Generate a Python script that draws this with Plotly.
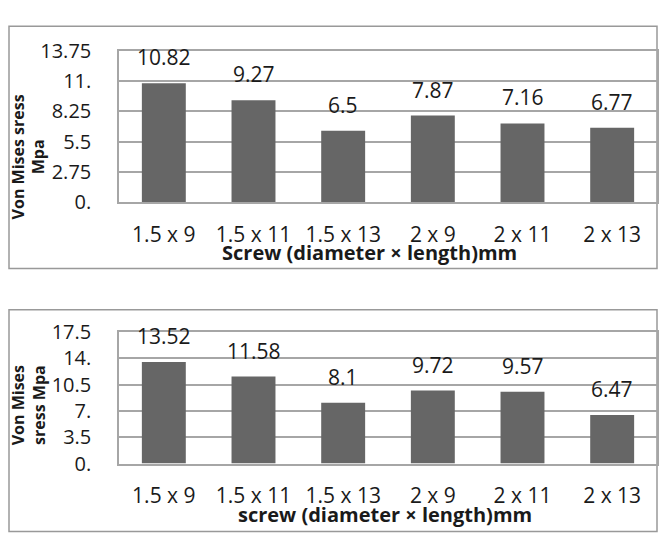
import plotly.graph_objects as go

W, H = 665, 537

categories = ["1.5 x 9", "1.5 x 11", "1.5 x 13", "2 x 9", "2 x 11", "2 x 13"]
top_values = [10.82, 9.27, 6.5, 7.87, 7.16, 6.77]
bottom_values = [13.52, 11.58, 8.1, 9.72, 9.57, 6.47]

top_tickvals = [0, 2.75, 5.5, 8.25, 11, 13.75]
top_ticktext = ["0.", "2.75", "5.5", "8.25", "11.", "13.75"]
bottom_tickvals = [0, 3.5, 7, 10.5, 14, 17.5]
bottom_ticktext = ["0.", "3.5", "7.", "10.5", "14.", "17.5"]

top_xtitle = "Screw (diameter × length)mm"
bottom_xtitle = "screw (diameter × length)mm"
top_ytitle = "Von Mises sress<br>Mpa"
bottom_ytitle = "Von Mises<br>sress Mpa"

FONT = "Open Sans"
BAR = "#666666"
GRID = "#a6a6a6"
TEXT = "#1a1a1a"
TS = 21


def px_x(v):
    return v / W


def px_y(v):
    return 1 - v / H


fig = go.Figure()
fig.add_trace(go.Bar(x=categories, y=top_values, marker=dict(color=BAR, line=dict(width=0)),
                     xaxis="x", yaxis="y", hoverinfo="skip"))
fig.add_trace(go.Bar(x=categories, y=bottom_values, marker=dict(color=BAR, line=dict(width=0)),
                     xaxis="x2", yaxis="y2", hoverinfo="skip"))

xdom = [px_x(119), px_x(657)]
common_x = dict(domain=xdom, showgrid=False, showline=True, linecolor=GRID, linewidth=1.5,
                mirror=True, ticks="", ticklabelstandoff=13,
                tickfont=dict(family=FONT, size=TS, color=TEXT), fixedrange=True)
common_y = dict(showgrid=True, gridcolor=GRID, gridwidth=1.5, showline=True, linecolor=GRID,
                linewidth=1.5, mirror=True, ticks="", zeroline=False, ticklabelstandoff=22,
                tickfont=dict(family=FONT, size=TS - 1, color=TEXT), fixedrange=True)

fig.update_layout(
    width=W, height=H, margin=dict(l=0, r=0, t=0, b=0),
    paper_bgcolor="white", plot_bgcolor="white", showlegend=False, bargap=0.51,
    xaxis=dict(anchor="y", **common_x),
    yaxis=dict(anchor="x", domain=[px_y(198), px_y(39)], range=[0, 13.75],
               tickvals=top_tickvals, ticktext=top_ticktext, **common_y),
    xaxis2=dict(anchor="y2", **common_x),
    yaxis2=dict(anchor="x2", domain=[px_y(473.3), px_y(335)], range=[0, 17.5],
                tickvals=bottom_tickvals, ticktext=bottom_ticktext, **common_y),
)

annotations = []
for c, v in zip(categories, top_values):
    annotations.append(dict(x=c, y=v, xref="x", yref="y", text=f"{v:g}", showarrow=False,
                            yanchor="middle", yshift=26,
                            font=dict(family=FONT, size=TS, color=TEXT)))
for c, v in zip(categories, bottom_values):
    annotations.append(dict(x=c, y=v, xref="x2", yref="y2", text=f"{v:g}", showarrow=False,
                            yanchor="middle", yshift=26,
                            font=dict(family=FONT, size=TS, color=TEXT)))

annotations.append(dict(x=px_x(369.5), y=px_y(251), xref="paper", yref="paper",
                        text=f"<b>{top_xtitle}</b>", showarrow=False,
                        xanchor="center", yanchor="middle",
                        font=dict(family=FONT, size=20, color=TEXT)))
annotations.append(dict(x=px_x(385), y=px_y(527), xref="paper", yref="paper",
                        text=f"<b>{bottom_xtitle}</b>", showarrow=False,
                        xanchor="center", yanchor="middle",
                        font=dict(family=FONT, size=20, color=TEXT)))
annotations.append(dict(x=px_x(28), y=px_y(151), xref="paper", yref="paper",
                        text=f"<b>{top_ytitle}</b>", showarrow=False, textangle=-90,
                        xanchor="center", yanchor="middle", align="center",
                        font=dict(family=FONT, size=16, color=TEXT)))
annotations.append(dict(x=px_x(28), y=px_y(412), xref="paper", yref="paper",
                        text=f"<b>{bottom_ytitle}</b>", showarrow=False, textangle=-90,
                        xanchor="center", yanchor="middle", align="center",
                        font=dict(family=FONT, size=16, color=TEXT)))

fig.update_layout(
    annotations=annotations,
    shapes=[
        dict(type="rect", xref="paper", yref="paper", x0=px_x(9), x1=px_x(657),
             y0=px_y(268), y1=px_y(13), line=dict(color="#999999", width=1.5), layer="below"),
        dict(type="rect", xref="paper", yref="paper", x0=px_x(9), x1=px_x(657),
             y0=px_y(545), y1=px_y(311.5), line=dict(color="#999999", width=1.5), layer="below"),
    ],
)

fig.write_html("out.html", config={"displayModeBar": False})
